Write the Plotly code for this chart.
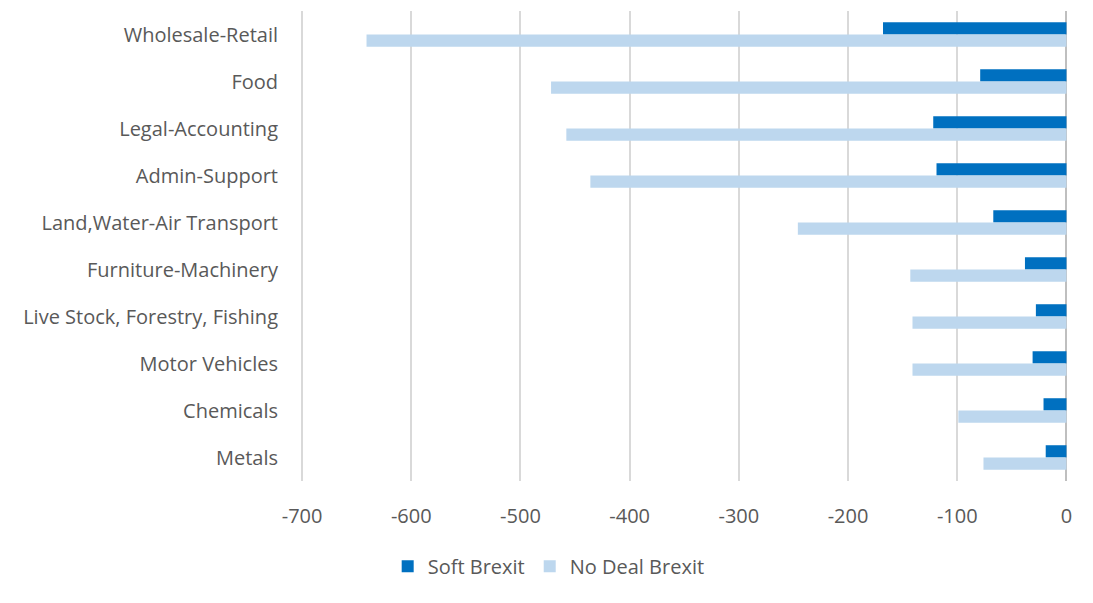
import plotly.graph_objects as go

# Sector job impact under two Brexit scenarios
sectors = [
    "Wholesale-Retail",
    "Food",
    "Legal-Accounting",
    "Admin-Support",
    "Land,Water-Air Transport",
    "Furniture-Machinery",
    "Live Stock, Forestry, Fishing",
    "Motor Vehicles",
    "Chemicals",
    "Metals",
]
soft_brexit = [-168, -79, -122, -119, -67, -38, -28, -31, -21, -19]
no_deal_brexit = [-641, -472, -458, -436, -246, -143, -141, -141, -99, -76]
x_ticks = [-700, -600, -500, -400, -300, -200, -100, 0]

FONT = "Open Sans"
TEXT = "#595959"

fig = go.Figure()
fig.add_trace(go.Bar(
    y=sectors, x=soft_brexit, orientation="h", name="Soft Brexit",
    marker=dict(color="#0070C0", line=dict(width=0)),
))
fig.add_trace(go.Bar(
    y=sectors, x=no_deal_brexit, orientation="h", name="No Deal Brexit",
    marker=dict(color="#BDD7EE", line=dict(width=0)),
))

fig.update_layout(
    width=1093, height=603,
    barmode="group", bargap=0.478, bargroupgap=0,
    plot_bgcolor="white", paper_bgcolor="white",
    margin=dict(l=301, r=26, t=11, b=122),
    font=dict(family=FONT, color=TEXT, size=20),
    legend=dict(
        orientation="h", xref="container", yref="container",
        x=0.502, xanchor="center", y=0.061, yanchor="middle",
        font=dict(size=20, color=TEXT), itemwidth=30, traceorder="normal",
    ),
    xaxis=dict(
        range=[-701, 0.5], tickvals=x_ticks,
        ticktext=[str(v) for v in x_ticks],
        showgrid=True, gridcolor="#d9d9d9", gridwidth=1.5,
        zeroline=True, zerolinecolor="#bfbfbf", zerolinewidth=1.5,
        showline=False, ticks="", ticklabelstandoff=21,
        tickfont=dict(size=20, color=TEXT),
    ),
    yaxis=dict(
        autorange="reversed", showgrid=False, showline=False, ticks="",
        ticklabelstandoff=22, tickfont=dict(size=20, color=TEXT),
    ),
)

fig.write_html("out.html")
